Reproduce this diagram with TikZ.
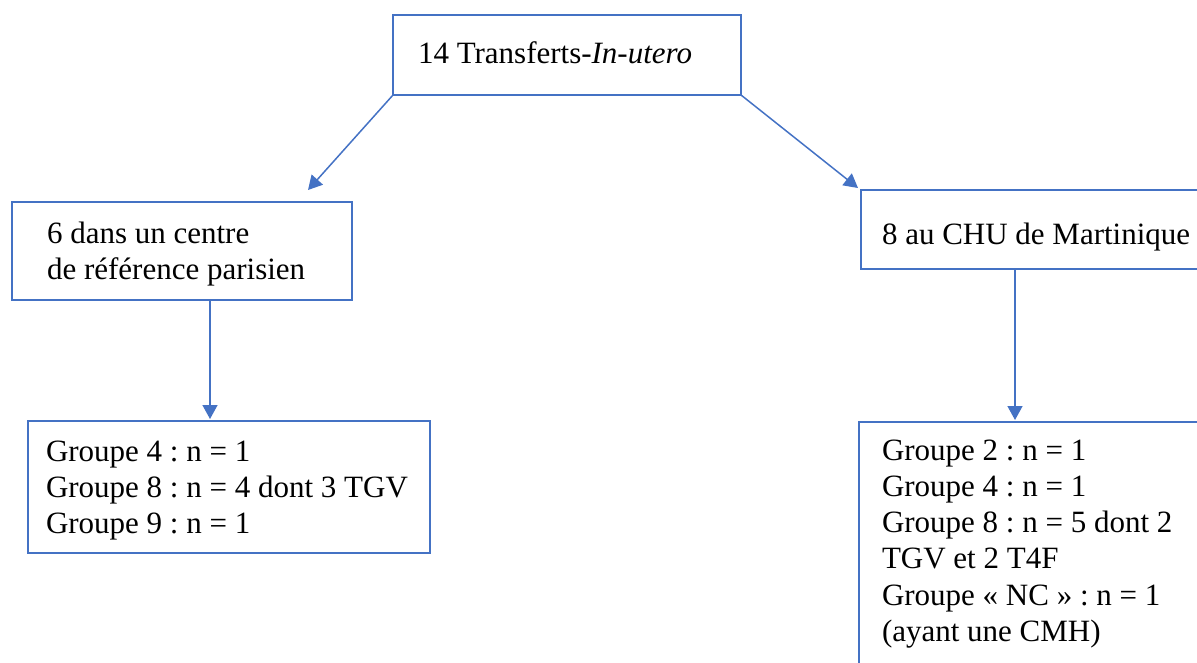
\documentclass[tikz,border=0pt]{standalone}
\usepackage{fontspec}
\setmainfont{Liberation Serif}
\usetikzlibrary{arrows.meta}
\definecolor{bleu}{HTML}{4472C4}

\begin{document}
\begin{tikzpicture}[x=1pt, y=-1pt,
    boite/.style={draw=bleu, line width=2.6pt, anchor=north west, align=flush left,
        inner ysep=0pt, outer sep=0pt, font=\fontsize{31}{36.3}\selectfont\frenchspacing},
    fleche/.style={draw=bleu, line width=1.5pt, -{Triangle[length=14pt, width=15pt]}}]

    % Cadre
    \useasboundingbox (0, 0) rectangle (1197, 662);
    \clip (0, 0) rectangle (1197, 662);

    % Racine
    \node[boite, text width=298pt, inner xsep=25pt, text height=48pt, text depth=32pt] (racine) at (393, 15)
        {14 Transferts-\textit{In-utero}};

    % Niveau 2
    \node[boite, text width=270pt, inner xsep=35pt, text height=41pt, text depth=57pt] (paris) at (12, 202)
        {6 dans un centre\\de référence parisien};
    \node[boite, text width=327pt, inner xsep=21pt, text height=54pt, text depth=25pt] (chu) at (861, 190)
        {8 au CHU de Martinique};

    % Niveau 3
    \node[boite, text width=366pt, inner xsep=18pt, text height=40pt, text depth=92pt] (grpParis) at (28, 421)
        {Groupe 4 : n = 1\\Groupe 8 : n = 4 dont 3 TGV\\Groupe 9 : n = 1};
    \node[boite, text width=330pt, inner xsep=23pt, text height=38pt, text depth=250pt] (grpChu) at (859, 422)
        {Groupe 2 : n = 1\\Groupe 4 : n = 1\\Groupe 8 : n = 5 dont 2\\TGV et 2 T4F\\Groupe « NC » : n = 1\\(ayant une CMH)};

    % Fleches
    \draw[fleche] (racine.south west) -- ([xshift=-44pt, yshift=12pt]paris.north east);
    \draw[fleche] (racine.south east) -- ([xshift=-3pt, yshift=2pt]chu.north west);

    \coordinate (depParis) at ([xshift=198pt]paris.south west);
    \coordinate (depChu) at ([xshift=154pt]chu.south west);
    \draw[fleche, shorten >=2pt] (depParis) -- (depParis |- grpParis.north);
    \draw[fleche, shorten >=2pt] (depChu) -- (depChu |- grpChu.north);

\end{tikzpicture}
\end{document}
